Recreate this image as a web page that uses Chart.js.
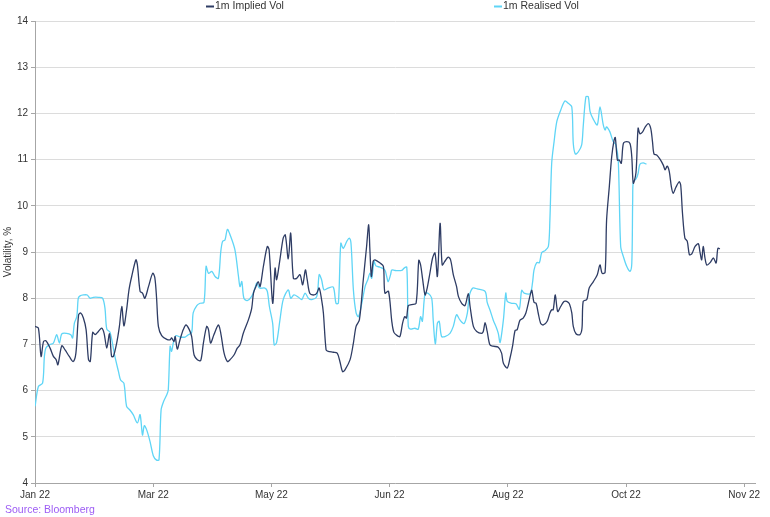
<!DOCTYPE html>
<html>
<head>
<meta charset="utf-8">
<script src="https://cdn.jsdelivr.net/npm/chart.js@4.4.1/dist/chart.umd.min.js"></script>
<style>
  html, body { margin: 0; padding: 0; background: #ffffff; }
  #wrap { width: 770px; height: 517px; position: relative; }
</style>
</head>
<body>
<div id="wrap"><canvas id="c" width="770" height="517"></canvas></div>
<script>
// ---- Data (x = trading-day index along the axis) ----
const seriesNames = ['1m Implied Vol', '1m Realised Vol'];
const xTickLabels = ['Jan 22', 'Mar 22', 'May 22', 'Jun 22', 'Aug 22', 'Oct 22', 'Nov 22'];
const xTickPositions = [-0.83, 38.57, 77.97, 117.37, 156.77, 196.17, 235.57];
const yTickMin = 4, yTickMax = 14, yTickStep = 1;

const impliedX = [-0.8,0.3,1.2,2.0,2.8,4.2,5.3,6.2,6.8,8.1,9.2,10.6,11.9,12.8,13.7,14.4,15.3,16.2,17.0,17.6,18.4,19.2,20.3,21.4,22.2,23.1,24.0,24.7,25.3,26.4,27.3,28.1,28.8,29.7,30.5,31.4,32.8,33.3,34.2,35.0,35.8,37.0,38.4,39.1,39.7,40.3,41.4,43.1,44.2,44.7,45.5,45.9,46.6,47.5,48.6,49.5,50.6,51.4,52.2,53.3,54.4,55.3,56.4,57.0,57.7,58.8,60.3,61.1,62.2,63.3,64.2,65.5,66.6,67.5,68.6,70.3,71.4,72.0,72.8,73.6,74.2,75.3,76.6,77.2,78.4,79.2,79.7,80.8,81.9,82.6,83.6,84.4,85.3,86.4,87.5,88.4,89.3,89.9,90.8,92.2,93.1,93.9,94.7,95.3,96.2,96.9,98.6,99.9,100.8,101.7,102.5,104.2,105.3,106.2,107.3,108.6,109.7,110.4,110.8,111.3,111.9,112.5,114.2,115.3,115.8,117.0,118.1,118.8,119.9,120.8,121.7,122.4,123.0,123.6,124.7,126.2,127.1,127.7,128.4,129.2,129.9,130.8,131.7,132.5,133.3,134.2,134.9,135.8,136.9,137.7,138.6,139.7,140.3,141.4,142.5,143.6,144.2,145.3,146.4,148.0,148.6,149.2,149.9,150.8,151.9,153.6,154.7,155.3,156.6,157.5,158.4,159.2,159.9,160.8,161.9,162.8,163.6,164.4,164.8,165.5,166.2,166.9,167.7,168.6,169.9,170.8,171.4,171.9,172.6,173.4,174.4,175.5,176.4,177.3,178.1,178.6,179.5,180.8,181.5,181.9,183.1,183.9,185.3,186.6,187.5,188.2,189.2,189.7,190.6,191.4,192.2,192.6,193.3,193.9,194.6,195.3,196.4,197.5,198.1,198.6,199.5,200.2,200.8,201.7,202.5,203.6,204.4,205.0,205.5,206.4,207.5,208.6,209.2,209.9,210.6,211.3,211.9,212.8,213.9,214.4,215.0,215.8,216.6,217.3,218.1,219.2,220.3,220.8,221.4,221.9,222.5,223.1,224.2,225.3,226.2,226.8,227.5];
const impliedY = [7.39,7.35,6.74,7.06,7.08,6.92,6.74,6.67,6.56,6.97,6.88,6.74,6.63,6.81,7.64,7.68,7.57,7.32,6.67,6.63,7.26,7.21,7.28,7.35,7.24,6.92,7.23,6.74,6.74,7.03,7.39,7.82,7.40,7.75,8.18,8.47,8.83,8.72,8.15,8.11,8.00,8.25,8.54,8.45,8.00,7.39,7.19,7.11,7.10,7.14,7.06,7.17,6.90,7.10,7.32,7.42,7.32,7.17,6.77,6.67,6.65,7.03,7.39,7.32,7.03,7.21,7.42,7.24,6.81,6.63,6.67,6.77,6.92,6.99,7.24,7.53,7.78,8.11,8.25,8.36,8.25,8.69,9.12,9.05,7.89,8.65,8.40,8.83,9.30,9.37,8.85,9.41,8.43,8.43,8.51,8.29,8.61,8.40,8.10,8.07,8.11,8.22,7.97,7.68,6.88,6.85,6.83,6.81,6.63,6.41,6.45,6.67,7.03,7.39,7.53,8.40,9.12,9.59,9.05,8.47,8.80,8.83,8.76,8.69,8.11,8.15,7.50,7.26,7.19,7.17,7.46,7.60,7.57,7.84,7.86,7.89,8.82,8.72,8.40,8.07,8.22,8.54,8.87,8.98,8.47,9.62,8.72,8.80,8.89,8.83,8.51,8.25,8.04,7.89,7.84,8.10,7.82,7.39,7.28,7.24,7.28,7.47,7.28,6.99,6.96,6.94,6.81,6.59,6.49,6.70,6.98,7.30,7.32,7.52,7.57,7.68,7.89,8.11,8.17,7.91,7.89,7.68,7.46,7.42,7.50,7.68,7.75,7.75,8.07,7.71,7.82,7.93,7.93,7.88,7.68,7.39,7.23,7.21,7.35,7.93,7.97,8.22,8.36,8.51,8.72,8.54,8.56,9.69,10.41,11.06,11.42,11.48,10.99,10.99,10.92,11.35,11.39,11.35,11.06,10.49,10.72,11.68,11.56,11.60,11.70,11.78,11.68,11.39,11.12,11.10,11.01,10.88,10.78,10.86,10.74,10.41,10.27,10.40,10.52,10.45,9.84,9.30,9.23,8.94,8.96,9.12,9.18,9.01,8.83,9.12,8.87,8.72,8.77,8.87,8.76,9.08,9.07];

const realisedX = [-0.8,0.3,1.7,2.3,2.8,3.9,5.3,6.4,7.3,8.1,9.7,11.1,11.7,12.3,13.1,13.6,14.2,15.3,16.6,17.5,18.6,20.3,21.7,22.5,23.1,24.2,25.8,27.0,27.7,28.8,29.7,30.8,31.9,33.3,34.2,35.0,35.6,36.4,37.5,38.6,39.6,40.5,41.2,42.0,43.1,43.6,44.2,44.7,45.3,46.2,47.5,49.2,50.3,51.4,51.9,53.1,54.2,55.5,56.2,57.0,58.1,59.2,60.3,61.1,61.7,62.5,63.3,64.2,65.8,67.0,67.5,68.1,68.8,69.9,71.4,72.5,73.1,74.0,75.8,76.6,77.3,78.4,78.9,79.7,80.8,81.9,83.6,84.4,85.5,87.0,88.1,89.2,90.3,91.4,93.1,93.9,94.7,95.5,96.9,98.6,99.5,100.3,101.1,101.9,103.1,103.9,104.5,105.3,106.2,107.0,108.1,109.2,110.1,110.8,111.4,112.2,112.8,114.2,115.8,116.4,116.9,117.7,118.1,119.2,121.4,122.2,123.1,123.6,124.4,125.8,126.9,127.7,128.3,129.2,130.3,131.4,131.9,132.6,133.3,133.9,134.7,135.8,137.5,138.6,139.7,140.8,142.2,143.3,143.9,145.1,146.6,149.2,149.9,150.8,151.9,152.8,153.6,154.2,155.3,156.1,156.6,158.1,159.5,160.6,161.4,162.2,164.2,165.0,165.5,166.4,167.3,168.1,169.2,170.3,170.8,171.4,172.2,173.1,174.4,175.8,176.9,178.1,178.6,179.3,180.3,181.4,181.9,182.8,183.6,184.2,185.3,186.6,187.5,188.6,189.2,189.7,190.8,191.9,192.8,193.6,194.4,195.3,196.4,197.5,198.1,198.4,198.6,199.5,200.2,200.8,201.9,203.0];
const realisedY = [5.66,6.09,6.16,6.74,6.92,6.99,7.03,7.21,7.03,7.23,7.24,7.21,7.14,7.46,7.60,8.00,8.05,8.07,8.07,8.00,8.02,8.02,8.00,7.78,7.33,7.26,6.74,6.41,6.23,6.16,5.66,5.58,5.48,5.30,5.48,5.04,5.24,5.15,4.90,4.59,4.50,4.50,5.58,5.76,5.91,6.02,6.96,6.85,7.04,7.19,7.16,7.16,7.21,7.26,7.68,7.84,7.89,7.91,8.69,8.54,8.58,8.47,8.43,9.01,9.23,9.26,9.49,9.37,9.05,8.47,8.25,8.36,8.00,7.95,8.04,8.22,8.33,8.22,8.22,8.15,7.82,7.45,6.99,7.04,7.52,7.97,8.18,8.00,8.07,8.02,7.97,8.11,8.00,7.97,8.04,8.51,8.40,8.18,8.22,8.24,7.89,7.89,9.19,9.08,9.23,9.30,9.19,8.18,7.68,7.60,7.89,8.25,8.40,8.54,8.43,8.80,8.70,8.67,8.61,8.47,8.36,8.51,8.61,8.60,8.60,8.65,8.67,7.39,7.33,7.35,7.33,7.60,7.50,8.11,8.10,8.00,7.53,7.01,7.46,7.50,7.17,7.17,7.24,7.39,7.64,7.53,7.45,7.68,8.04,8.22,8.20,8.15,7.91,7.75,7.53,7.39,7.24,7.04,7.53,8.11,7.93,7.89,7.88,7.76,8.17,8.11,8.10,8.33,8.61,8.77,8.77,8.99,9.03,9.12,9.69,10.92,11.39,11.82,12.07,12.27,12.22,12.14,11.35,11.12,11.17,11.32,11.71,12.36,12.36,12.04,11.87,11.75,12.14,11.75,11.64,11.71,11.60,11.39,11.32,10.96,9.12,8.90,8.69,8.58,8.75,10.13,10.52,10.58,10.70,10.90,10.93,10.90];

const seriesColors = ['#2e3c64', '#5fd5f6'];
const FONT = "'Liberation Sans', Arial, sans-serif";

function toPoints(xs, ys) { return xs.map((x, i) => ({ x: x, y: ys[i] })); }

const overlayPlugin = {
  id: 'overlay',
  afterDraw(chart) {
    const ctx = chart.ctx;
    ctx.save();
    // legend
    const legendX = [206, 494];
    const legendY = 6;
    ctx.font = "10.5px " + FONT;
    ctx.textBaseline = 'middle';
    ctx.textAlign = 'left';
    chart.data.datasets.forEach((ds, i) => {
      ctx.strokeStyle = ds.borderColor;
      ctx.lineWidth = 2;
      ctx.beginPath();
      ctx.moveTo(legendX[i], legendY + 0.5);
      ctx.lineTo(legendX[i] + 8, legendY + 0.5);
      ctx.stroke();
      ctx.fillStyle = '#333333';
      ctx.fillText(ds.label, legendX[i] + 9, legendY + 0.5);
    });
    // source
    ctx.font = "10.5px " + FONT;
    ctx.fillStyle = '#9d5cf4';
    ctx.fillText('Source: Bloomberg', 5, 510);
    ctx.restore();
  }
};

new Chart(document.getElementById('c'), {
  type: 'line',
  data: {
    datasets: [
      { label: seriesNames[0], data: toPoints(impliedX, impliedY), borderColor: seriesColors[0], backgroundColor: seriesColors[0], borderWidth: 1.3, pointRadius: 0, tension: 0.3, fill: false },
      { label: seriesNames[1], data: toPoints(realisedX, realisedY), borderColor: seriesColors[1], backgroundColor: seriesColors[1], borderWidth: 1.3, pointRadius: 0, tension: 0.3, fill: false }
    ]
  },
  options: {
    responsive: false,
    animation: false,
    devicePixelRatio: 1,
    layout: { padding: { left: 0, right: 15, top: 21, bottom: 0 } },
    plugins: { legend: { display: false }, tooltip: { enabled: false } },
    scales: {
      x: {
        type: 'linear',
        min: -0.83,
        max: 239.17,
        afterFit(scale) { scale.height = 34; },
        afterBuildTicks(scale) { scale.ticks = xTickPositions.map(v => ({ value: v })); },
        ticks: {
          autoSkip: false, maxRotation: 0, minRotation: 0, padding: 2,
          color: '#333333', font: { family: FONT, size: 10 },
          callback(value, index) { return xTickLabels[index]; }
        },
        grid: { drawOnChartArea: false, drawTicks: true, tickLength: 4, color: '#a6a6a6', tickColor: '#a6a6a6' },
        border: { display: true, color: '#a6a6a6', width: 1 }
      },
      y: {
        min: yTickMin, max: yTickMax,
        afterFit(scale) { scale.width = 35; },
        ticks: { stepSize: yTickStep, padding: 3, color: '#333333', font: { family: FONT, size: 10 } },
        title: { display: true, text: 'Volatility, %', color: '#333333', font: { family: FONT, size: 10 }, padding: { top: 2, bottom: 0 } },
        grid: { color: '#dcdcdc', tickLength: 4, tickColor: '#a6a6a6', lineWidth: 1 },
        border: { display: true, color: '#a6a6a6', width: 1 }
      }
    }
  },
  plugins: [overlayPlugin]
});
</script>
</body>
</html>
